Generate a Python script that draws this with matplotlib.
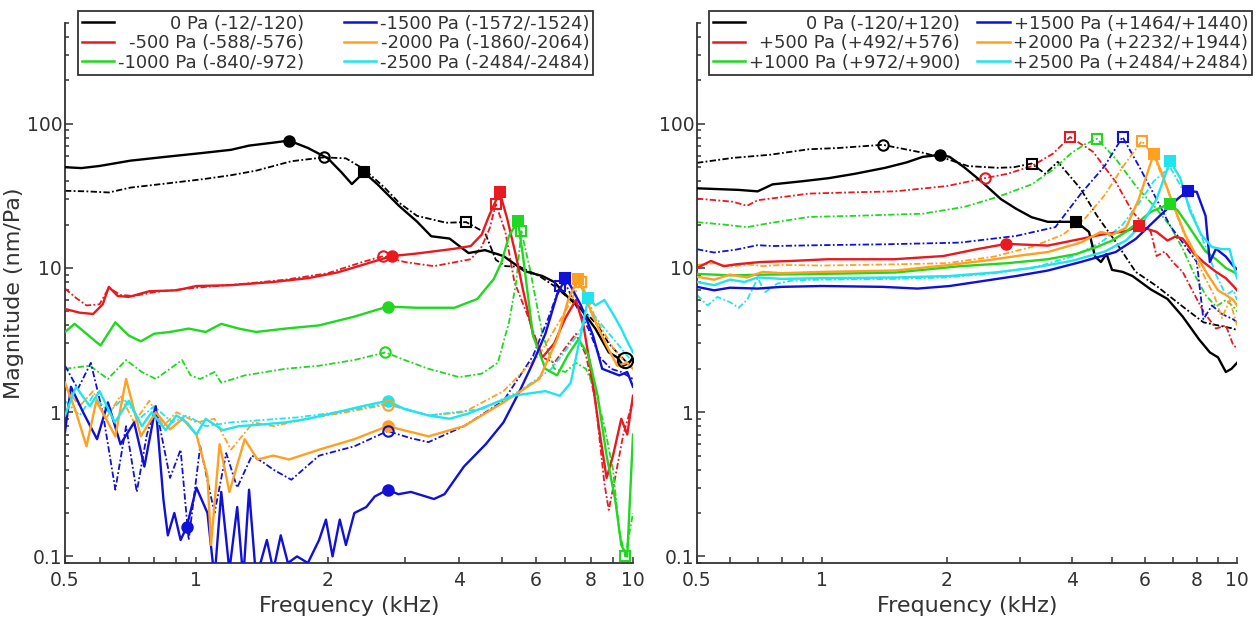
import matplotlib
matplotlib.use("Agg")
import matplotlib.pyplot as plt
from matplotlib.lines import Line2D
from matplotlib.ticker import FixedLocator, FixedFormatter, NullFormatter, LogLocator

# ---------------- left panel: negative pressure (kHz / nm/Pa) ----------------
n0_f = [0.5, 0.545, 0.6, 0.706, 0.85, 1.035, 1.2, 1.32, 1.5, 1.63, 1.8, 2.0, 2.15, 2.27, 2.42, 2.6, 2.91,
        3.2, 3.45, 3.8, 4.2, 4.58, 5.05, 5.65, 6.2, 6.6, 7.05, 7.6, 8.2, 8.8, 9.2, 9.5, 9.8, 10.0]
n0_m = [50, 49.3, 51, 55.5, 59, 62.8, 66, 70.6, 74, 76.5, 68, 57.6, 46, 38.2, 46, 38, 27,
        21, 16.6, 16.0, 12.7, 13.3, 12.1, 9.5, 8.8, 8.0, 6.4, 5.2, 3.8, 2.6, 2.4, 2.1, 2.2, 2.4]
n0d_f = [0.5, 0.56, 0.63, 0.706, 0.85, 1.035, 1.2, 1.37, 1.65, 1.96, 2.2, 2.42, 2.7, 2.91, 3.2, 3.73, 4.15,
         4.58, 4.85, 5.1, 5.5, 6.1, 6.6, 7.2, 7.8, 8.3, 8.8, 9.3, 9.7, 10.0]
n0d_m = [34.3, 34, 33.4, 36.1, 38.5, 41.3, 44, 47.3, 55, 58.5, 57.6, 48.5, 36, 28.4, 23, 20.6, 20.8,
         17.6, 11.4, 10.3, 10.2, 8.8, 7.5, 6.0, 4.9, 4.0, 3.0, 2.5, 2.2, 2.3]

n500_f = [0.5, 0.54, 0.58, 0.61, 0.63, 0.66, 0.7, 0.78, 0.9, 1.0, 1.2, 1.5, 1.8, 2.1, 2.4, 2.8, 3.2, 3.9,
          4.25, 4.5, 4.68, 4.95, 5.15, 5.4, 5.6, 5.9, 6.2, 6.6, 7.0, 7.4, 7.7, 8.0, 8.4, 8.7, 9.0, 9.4,
          9.7, 10.0]
n500_m = [5.2, 4.9, 4.8, 5.6, 7.4, 6.4, 6.3, 6.9, 7.0, 7.5, 7.6, 8.0, 8.5, 9.3, 10.5, 12.1, 12.6, 13.6,
          14.2, 17, 23, 33.6, 22, 12, 7, 3.5, 2.4, 3.0, 4.5, 6.0, 4.0, 2.0, 0.7, 0.35, 0.5, 0.9,
          0.7, 1.3]
n500d_f = [0.5, 0.53, 0.56, 0.6, 0.63, 0.67, 0.72, 0.8, 1.0, 1.3, 1.6, 2.0, 2.4, 2.68, 3.0, 3.5, 4.25,
           4.5, 4.7, 4.85, 5.1, 5.35, 5.75, 6.2, 6.6, 7.0, 7.4, 7.8, 8.2, 8.6, 8.8, 9.1, 9.5, 10.0]
n500d_m = [7.2, 6.2, 5.5, 5.6, 7.3, 6.5, 6.4, 6.8, 7.3, 7.8, 8.3, 9.2, 11, 12.1, 11, 10.3, 11.5,
           14, 19, 27.8, 17.8, 8, 4.6, 2.4, 2.2, 2.8, 3.5, 2.5, 1.2, 0.32, 0.21, 0.35, 0.7, 1.2]

n1000_f = [0.5, 0.526, 0.56, 0.603, 0.652, 0.7, 0.746, 0.8, 0.87, 0.96, 1.05, 1.14, 1.25, 1.37, 1.6,
           1.91, 2.3, 2.74, 3.2, 3.9, 4.4, 4.8, 5.0, 5.2, 5.45, 5.6, 5.9, 6.3, 6.7, 7.1, 7.5, 7.9, 8.3,
           8.7, 9.1, 9.4, 9.7, 10.0]
n1000_m = [3.6, 4.1, 3.5, 2.9, 4.2, 3.4, 3.1, 3.5, 3.6, 3.8, 3.6, 4.1, 3.8, 3.6, 3.8,
           4.0, 4.6, 5.4, 5.3, 5.3, 6.1, 8.4, 11, 16.7, 21.2, 12, 3.4, 2.0, 1.8, 2.5, 3.2, 2.5, 1.3,
           0.5, 0.25, 0.12, 0.1, 0.7]
n1000d_f = [0.5, 0.57, 0.627, 0.69, 0.75, 0.807, 0.87, 0.927, 0.97, 1.02, 1.1, 1.14, 1.29, 1.6, 1.91,
            2.3, 2.71, 3.0, 3.4, 4.0, 4.5, 4.9, 5.2, 5.4, 5.55, 5.8, 6.2, 6.6, 7.0, 7.4, 7.8, 8.2, 8.6,
            9.0, 9.3, 9.6, 10.0]
n1000d_m = [2.0, 2.1, 1.7, 2.3, 1.9, 1.7, 2.0, 2.3, 1.8, 1.7, 1.9, 1.6, 1.8, 2.0, 2.1,
            2.3, 2.6, 2.3, 2.0, 1.75, 1.85, 2.2, 4.2, 8, 18, 10, 3.5, 2.0, 1.9, 2.2, 2.0, 1.4, 0.8,
            0.4, 0.15, 0.1, 0.2]

n1500_f = [0.5, 0.516, 0.55, 0.592, 0.627, 0.67, 0.72, 0.76, 0.807, 0.84, 0.86, 0.89, 0.92, 0.95, 1.0,
           1.06, 1.10, 1.14, 1.19, 1.24, 1.28, 1.32, 1.37, 1.45, 1.5, 1.56, 1.62, 1.7, 1.8, 1.91, 1.98,
           2.05, 2.13, 2.2, 2.3, 2.45, 2.56, 2.74, 2.9, 3.1, 3.5, 3.7, 4.1, 4.6, 5.05, 5.5, 5.9, 6.3,
           6.7, 7.0, 7.2, 7.6, 8.1, 8.5, 9.3, 9.7, 10.0]
n1500_m = [0.73, 1.5, 1.0, 0.65, 1.17, 0.6, 0.85, 0.42, 1.1, 0.25, 0.14, 0.2, 0.13, 0.16, 0.3,
           0.2, 0.07, 0.28, 0.08, 0.22, 0.07, 0.29, 0.07, 0.13, 0.08, 0.14, 0.09, 0.1, 0.09, 0.13, 0.18,
           0.1, 0.18, 0.12, 0.2, 0.22, 0.26, 0.29, 0.27, 0.28, 0.25, 0.27, 0.42, 0.6, 0.85, 1.4, 2.2, 3.5,
           6.5, 8.5, 7.5, 5.5, 3.4, 2.0, 1.8, 1.9, 1.5]
n1500d_f = [0.5, 0.535, 0.573, 0.61, 0.652, 0.69, 0.73, 0.77, 0.807, 0.87, 0.92, 0.96, 1.02, 1.1, 1.17,
            1.24, 1.34, 1.42, 1.5, 1.65, 1.91, 2.3, 2.74, 3.1, 3.4, 4.1, 5.05, 5.9, 6.4, 6.8, 7.0, 7.4,
            7.9, 8.4, 8.9, 9.4, 10.0]
n1500d_m = [2.1, 1.45, 2.2, 1.0, 0.29, 0.8, 0.28, 0.7, 1.1, 0.35, 0.55, 0.13, 0.58, 0.2, 0.52,
            0.3, 0.5, 0.45, 0.4, 0.34, 0.5, 0.58, 0.74, 0.66, 0.62, 0.8, 1.2, 2.45, 4.5, 7.5, 7.8, 5.5,
            3.8, 2.4, 2.0, 1.9, 1.7]

n2000_f = [0.5, 0.53, 0.56, 0.59, 0.652, 0.69, 0.746, 0.807, 0.87, 0.93, 1.0, 1.06, 1.08, 1.13, 1.19,
           1.29, 1.38, 1.5, 1.63, 1.91, 2.3, 2.74, 3.4, 4.1, 5.05, 6.1, 6.7, 7.1, 7.5, 8.1, 8.7, 9.2,
           9.7, 10.0]
n2000_m = [1.6, 1.0, 0.58, 1.2, 0.68, 1.7, 0.68, 1.0, 0.76, 0.9, 0.7, 0.36, 0.12, 0.6, 0.28,
           0.65, 0.47, 0.5, 0.47, 0.55, 0.65, 0.8, 0.68, 0.8, 1.17, 1.7, 3.2, 6.0, 8.4, 4.6, 2.9, 2.1,
           2.2, 2.0]
n2000d_f = [0.5, 0.54, 0.58, 0.62, 0.67, 0.72, 0.78, 0.84, 0.9, 1.0, 1.1, 1.2, 1.35, 1.5, 1.8, 2.2,
            2.74, 3.4, 4.1, 5.05, 6.1, 7.0, 7.6, 8.2, 9.0, 9.5, 10.0]
n2000d_m = [1.5, 1.1, 1.4, 0.9, 1.3, 0.85, 1.2, 0.8, 1.0, 0.85, 0.9, 0.55, 0.85, 0.8, 0.9, 1.0,
            1.13, 0.95, 1.0, 1.4, 2.5, 5.0, 8.0, 4.5, 2.8, 2.3, 2.0]

n2500_f = [0.5, 0.53, 0.57, 0.6, 0.65, 0.7, 0.75, 0.79, 0.85, 0.9, 0.95, 1.0, 1.05, 1.15, 1.25, 1.4,
           1.6, 1.8, 2.1, 2.4, 2.74, 3.0, 3.4, 3.8, 4.2, 4.8, 5.3, 5.8, 6.3, 6.8, 7.2, 7.6, 7.9, 8.2,
           8.6, 9.0, 9.4, 9.7, 10.0]
n2500_m = [0.95, 1.5, 1.1, 1.4, 0.85, 1.2, 0.8, 1.0, 0.75, 0.95, 0.85, 0.7, 0.9, 0.75, 0.8, 0.82,
           0.85, 0.9, 1.0, 1.1, 1.2, 1.05, 0.95, 0.9, 0.98, 1.15, 1.3, 1.35, 1.4, 1.3, 1.6, 3.5, 6.2, 5.5,
           6.0, 4.8, 3.8, 3.1, 2.6]
n2500d_f = [0.5, 0.54, 0.58, 0.63, 0.68, 0.74, 0.8, 0.88, 0.95, 1.05, 1.2, 1.4, 1.7, 2.1, 2.74, 3.4,
            4.5, 5.5, 6.5, 7.5, 8.0, 8.5, 9.2, 10.0]
n2500d_m = [1.2, 0.95, 1.3, 1.0, 1.25, 0.9, 1.1, 0.85, 0.95, 0.8, 0.85, 0.88, 0.92, 1.0, 1.15, 0.95,
            1.05, 1.4, 2.0, 3.5, 5.0, 4.0, 3.0, 2.2]

# markers, left panel
nfc_f = [1.63, 2.8, 2.74, 2.74, 2.74, 2.74, 0.95]        # filled circles (solid curves)
nfc_m = [76.5, 12.1, 5.4, 0.29, 0.8, 1.2, 0.16]
nfc_c = ["k", "r", "g", "b", "o", "c", "b"]
noc_f = [1.96, 2.68, 2.71, 2.74, 2.74, 9.6]               # open circles (dash-dot curves)
noc_m = [58.5, 12.1, 2.6, 0.74, 1.13, 2.3]
noc_c = ["k", "r", "g", "b", "o", "k"]
nfs_f = [2.42, 4.95, 5.45, 7.0, 7.5, 7.9]                 # filled squares
nfs_m = [46, 33.6, 21.2, 8.5, 8.4, 6.2]
nfs_c = ["k", "r", "g", "b", "o", "c"]
nos_f = [4.15, 4.85, 5.55, 6.8, 7.6, 9.6]                 # open squares
nos_m = [20.8, 27.8, 18, 7.5, 8.0, 0.1]
nos_c = ["k", "r", "g", "b", "o", "g"]

# ---------------- right panel: positive pressure ----------------
p0_f = [0.5, 0.63, 0.7, 0.76, 0.9, 1.04, 1.2, 1.42, 1.6, 1.75, 1.93, 2.03, 2.2, 2.43, 2.7, 2.94, 3.2,
        3.5, 4.1, 4.4, 4.55, 4.7, 4.85, 5.0, 5.3, 5.6, 6.2, 6.8, 7.4, 8.1, 8.6, 9.0, 9.4, 9.7, 10.0]
p0_m = [35.7, 34.8, 34, 38, 40, 42, 45, 49.5, 54, 59, 61, 59, 50, 39.5, 30, 25.7, 22.5,
        20.9, 20.9, 17.8, 12, 11, 12.5, 9.7, 9.4, 8.8, 7.1, 6.1, 4.6, 3.2, 2.6, 2.4, 1.9, 2.0, 2.2]
p0d_f = [0.5, 0.61, 0.75, 0.93, 1.1, 1.4, 1.75, 2.0, 2.25, 2.66, 2.9, 3.2, 3.45, 3.7, 4.2, 4.6, 5.1,
         5.7, 6.4, 7.4, 8.3, 9.0, 9.8, 10.0]
p0d_m = [53.6, 58, 61, 66.6, 68, 71.5, 63, 57, 50.9, 49.5, 50, 53, 45, 54.5, 35.4, 23, 15.2,
         9.4, 7.5, 5.4, 4.2, 4.0, 3.8, 3.7]

p500_f = [0.5, 0.54, 0.58, 0.62, 0.71, 0.85, 1.03, 1.49, 1.96, 2.36, 2.78, 3.5, 4.2, 4.7, 5.4, 5.8,
          6.4, 6.8, 7.1, 7.4, 7.8, 8.3, 8.9, 9.4, 9.8, 10.0]
p500_m = [10, 11.2, 10.3, 10.6, 11, 11.2, 11.5, 11.5, 12.1, 13.5, 14.7, 14.3, 15.9, 17, 18, 19.5,
          17.8, 15.5, 16.5, 16, 13, 11, 9.4, 8.5, 7.5, 7.0]
p500d_f = [0.5, 0.61, 0.66, 0.7, 0.8, 0.93, 1.2, 1.5, 2.0, 2.47, 2.8, 3.2, 3.6, 3.96, 4.5, 5.1, 5.6,
           6.2, 6.4, 6.7, 7.0, 7.4, 7.8, 8.3, 8.9, 9.4, 9.8, 10.0]
p500d_m = [30.3, 28.8, 27, 29.5, 31, 32.8, 33.5, 34, 37, 42, 45, 50.8, 62, 81, 64, 39.6, 24.5,
           17.8, 12.1, 13, 11, 9.4, 7, 5.0, 3.8, 4.0, 2.9, 2.8]

p1000_f = [0.5, 0.6, 0.75, 1.0, 1.5, 2.16, 2.8, 3.5, 4.1, 4.6, 5.0, 5.4, 5.8, 6.2, 6.6, 6.9, 7.2, 7.6,
           8.0, 8.4, 8.9, 9.4, 9.8, 10.0]
p1000_m = [9.1, 8.9, 9.0, 9.1, 9.3, 10.3, 10.8, 11.5, 12.5, 14.0, 15.5, 17.8, 21, 24.5, 26.5, 27.8,
           25, 20, 16, 13, 11.5, 10, 9.4, 9.0]
p1000d_f = [0.5, 0.58, 0.66, 0.75, 0.93, 1.2, 1.75, 2.2, 2.66, 3.2, 3.6, 4.0, 4.3, 4.6, 5.1, 5.7, 6.4,
            6.9, 7.4, 7.9, 8.4, 8.9, 9.4, 9.8, 10.0]
p1000d_m = [20.8, 20, 19.2, 20.5, 22.6, 23, 23.8, 26.5, 31.2, 38, 48, 63, 72, 78.6, 57.3, 37.2, 25.7,
            19.6, 13.6, 9, 6.5, 5.4, 6, 5.4, 5.0]

p1500_f = [0.5, 0.55, 0.6, 0.7, 0.8, 1.0, 1.4, 1.7, 2.03, 2.36, 2.94, 3.5, 4.2, 5.1, 5.7, 6.4, 7.2,
           7.6, 8.0, 8.4, 8.6, 8.9, 9.4, 9.8, 10.0]
p1500_m = [7.4, 7.0, 7.3, 7.2, 7.4, 7.5, 7.4, 7.2, 7.5, 8.0, 8.8, 9.6, 11, 12.9, 15.9, 21.9, 30.2,
           34.3, 33.7, 23, 11, 13.6, 12, 10.3, 9.8]
p1500d_f = [0.5, 0.55, 0.62, 0.7, 0.76, 1.0, 1.42, 2.15, 2.94, 3.65, 4.2, 4.8, 5.3, 5.8, 6.4, 6.9,
            7.4, 8.0, 8.3, 8.7, 9.2, 9.8, 10.0]
p1500d_m = [13.5, 12.8, 13.4, 14.4, 14.2, 14.4, 14.6, 15, 16.7, 19.2, 32.6, 51, 81, 51, 30, 19.6,
            15, 11, 4.4, 5.5, 4.8, 4.4, 4.2]

p2000_f = [0.5, 0.55, 0.6, 0.66, 0.72, 0.8, 1.0, 1.5, 2.03, 2.5, 3.0, 3.5, 4.2, 4.7, 5.0, 5.4, 5.8,
           6.3, 6.6, 7.0, 7.5, 8.0, 8.5, 9.0, 9.4, 9.8, 10.0]
p2000_m = [8.7, 8.3, 9.0, 8.6, 9.4, 9.2, 9.4, 9.6, 10.5, 11.3, 12.2, 12.9, 15, 17.8, 17, 19, 30,
           62, 45, 28, 17, 12, 9, 7, 6.5, 6.0, 5.5]
p2000d_f = [0.5, 0.55, 0.6, 0.66, 0.72, 0.8, 1.0, 1.5, 2.0, 2.6, 3.2, 3.8, 4.3, 4.8, 5.3, 5.9, 6.3,
            6.8, 7.3, 7.8, 8.3, 8.8, 9.2, 9.6, 10.0]
p2000d_m = [10.5, 10.8, 10.2, 10.6, 10.3, 10.5, 10.4, 10.6, 10.8, 12, 14, 17, 22, 32, 50, 76, 60,
            35, 20, 13, 9, 6.5, 4.5, 6.0, 4.0]

p2500_f = [0.5, 0.55, 0.6, 0.65, 0.7, 0.8, 1.0, 1.5, 2.03, 2.6, 3.2, 4.0, 4.8, 5.4, 5.9, 6.4, 6.9,
           7.3, 7.7, 8.2, 8.7, 9.2, 9.6, 10.0]
p2500_m = [8.0, 7.6, 8.3, 8.0, 8.6, 8.4, 8.5, 8.6, 8.8, 9.3, 10.0, 11.2, 13, 15.5, 20, 30, 55,
           42, 25, 17, 14, 13.5, 13.5, 8.5]
p2500d_f = [0.5, 0.53, 0.56, 0.6, 0.63, 0.66, 0.7, 0.73, 0.78, 0.85, 1.0, 1.5, 2.0, 2.6, 3.3, 4.0,
            4.7, 5.3, 5.8, 6.3, 6.9, 7.4, 7.9, 8.4, 8.9, 9.4, 9.8, 10.0]
p2500d_m = [6.5, 5.5, 6.3, 5.8, 5.3, 6.0, 8.5, 6.8, 7.8, 8.2, 8.3, 8.4, 8.6, 9.2, 10.2, 12,
            15, 20, 28, 40, 50, 35, 22, 14, 9, 6.5, 7, 6.0]

# markers, right panel
pfc_f = [1.93, 2.78]
pfc_m = [61, 14.7]
pfc_c = ["k", "r"]
poc_f = [1.4, 2.47]
poc_m = [71.5, 42]
poc_c = ["k", "r"]
pfs_f = [4.1, 5.8, 6.9, 7.6, 6.3, 6.9]
pfs_m = [20.9, 19.5, 27.8, 34.3, 62, 55]
pfs_c = ["k", "r", "g", "b", "o", "c"]
pos_f = [3.2, 3.96, 4.6, 5.3, 5.9]
pos_m = [53, 81, 78.6, 81, 76]
pos_c = ["k", "r", "g", "b", "o"]

neg_labels = ["0 Pa (-12/-120)", "-500 Pa (-588/-576)", "-1000 Pa (-840/-972)",
              "-1500 Pa (-1572/-1524)", "-2000 Pa (-1860/-2064)", "-2500 Pa (-2484/-2484)"]
pos_labels = ["0 Pa (-120/+120)", "+500 Pa (+492/+576)", "+1000 Pa (+972/+900)",
              "+1500 Pa (+1464/+1440)", "+2000 Pa (+2232/+1944)", "+2500 Pa (+2484/+2484)"]

xticks = [0.5, 1, 2, 4, 6, 8, 10]
xtick_labels = ["0.5", "1", "2", "4", "6", "8", "10"]
xminor = [0.6, 0.7, 0.8, 0.9, 3, 5, 7, 9]

colors = {"k": "#000000", "r": "#e8191f", "g": "#1fd81f", "b": "#1010d8", "o": "#ffa020", "c": "#20e4ee"}
col_order = ["k", "r", "g", "b", "o", "c"]
dashdot = (0, (3.5, 1.3, 1.0, 1.3))

neg_curves = [(n0_f, n0_m, n0d_f, n0d_m), (n500_f, n500_m, n500d_f, n500d_m),
              (n1000_f, n1000_m, n1000d_f, n1000d_m), (n1500_f, n1500_m, n1500d_f, n1500d_m),
              (n2000_f, n2000_m, n2000d_f, n2000d_m), (n2500_f, n2500_m, n2500d_f, n2500d_m)]
pos_curves = [(p0_f, p0_m, p0d_f, p0d_m), (p500_f, p500_m, p500d_f, p500d_m),
              (p1000_f, p1000_m, p1000d_f, p1000d_m), (p1500_f, p1500_m, p1500d_f, p1500d_m),
              (p2000_f, p2000_m, p2000d_f, p2000d_m), (p2500_f, p2500_m, p2500d_f, p2500d_m)]

plt.rcParams["font.family"] = "DejaVu Sans"
W, H = 1259, 631
fig = plt.figure(figsize=(W / 100, H / 100), dpi=100)
ax1 = fig.add_axes([65 / W, 1 - 563 / H, 568 / W, 540 / H])
ax2 = fig.add_axes([697 / W, 1 - 563 / H, 540 / W, 540 / H])

TXT = "#333333"


def draw_panel(ax, curves, markers):
    for key, (fs, ms, fd, md) in zip(col_order, curves):
        c = colors[key]
        ax.plot(fd, md, color=c, lw=1.3, linestyle=dashdot, zorder=2)
        ax.plot(fs, ms, color=c, lw=1.7, zorder=3)
    for (fx, my, cs), (mk, filled) in markers:
        for x, y, k in zip(fx, my, cs):
            c = colors[k]
            big = (k == "k" and x > 9)
            ax.plot([x], [y], marker=mk, ms=11 if big else 7.5, mew=1.5, mec=c,
                    mfc=c if filled else "none", ls="none", zorder=5)

    ax.set_xscale("log")
    ax.set_yscale("log")
    ax.set_xlim(0.5, 10)
    ax.set_ylim(0.09, 500)
    ax.xaxis.set_major_locator(FixedLocator(xticks))
    ax.xaxis.set_major_formatter(FixedFormatter(xtick_labels))
    ax.xaxis.set_minor_locator(FixedLocator(xminor))
    ax.xaxis.set_minor_formatter(NullFormatter())
    ax.yaxis.set_major_locator(FixedLocator([0.1, 1, 10, 100]))
    ax.yaxis.set_major_formatter(FixedFormatter(["0.1", "1", "10", "100"]))
    ax.yaxis.set_minor_locator(LogLocator(base=10, subs=range(2, 10), numticks=20))
    ax.yaxis.set_minor_formatter(NullFormatter())
    ax.tick_params(which="both", direction="in", colors=TXT, labelsize=13.5, width=1.1)
    ax.tick_params(axis="x", which="both", length=4, pad=6)
    ax.tick_params(axis="y", which="major", length=5.5, pad=2)
    ax.tick_params(axis="y", which="minor", length=3)
    for s in ["top", "right"]:
        ax.spines[s].set_visible(False)
    for s in ["left", "bottom"]:
        ax.spines[s].set_color(TXT)
        ax.spines[s].set_linewidth(1.3)
    ax.set_xlabel("Frequency (kHz)", fontsize=16, color=TXT, labelpad=4)


draw_panel(ax1, neg_curves, [((nfc_f, nfc_m, nfc_c), ("o", True)), ((noc_f, noc_m, noc_c), ("o", False)),
                             ((nfs_f, nfs_m, nfs_c), ("s", True)), ((nos_f, nos_m, nos_c), ("s", False))])
draw_panel(ax2, pos_curves, [((pfc_f, pfc_m, pfc_c), ("o", True)), ((poc_f, poc_m, poc_c), ("o", False)),
                             ((pfs_f, pfs_m, pfs_c), ("s", True)), ((pos_f, pos_m, pos_c), ("s", False))])
ax1.set_ylabel("Magnitude (nm/Pa)", fontsize=16, color=TXT, labelpad=2)


def add_legend(ax, labels, x0, x1):
    handles = [Line2D([], [], color=colors[k], lw=1.8) for k in col_order]
    leg = ax.legend(handles, labels, loc="upper left", ncol=2, mode="expand",
                    bbox_to_anchor=(x0 / W, 1 - 80 / H, (x1 - x0) / W, 69 / H),
                    bbox_transform=fig.transFigure, fontsize=13, frameon=True, fancybox=False,
                    edgecolor=TXT, framealpha=1, borderpad=0.2, labelspacing=0.08,
                    handlelength=1.8, handletextpad=0.2, columnspacing=0.5, borderaxespad=0)
    leg.get_frame().set_linewidth(1.3)
    for t in leg.get_texts():
        t.set_color(TXT)
    return leg


legs = [add_legend(ax1, neg_labels, 78, 593), add_legend(ax2, pos_labels, 709, 1252)]

# right-align the labels inside each legend column (handle stays on the left)
fig.canvas.draw()
r = fig.canvas.get_renderer()
for leg in legs:
    for col in leg._legend_handle_box.get_children():
        items = col.get_children()
        widths = [it.get_children()[1].get_window_extent(r).width for it in items]
        for it, w in zip(items, widths):
            it.sep += (max(widths) - w) * 72 / fig.dpi

fig.savefig("out.png", dpi=100)
